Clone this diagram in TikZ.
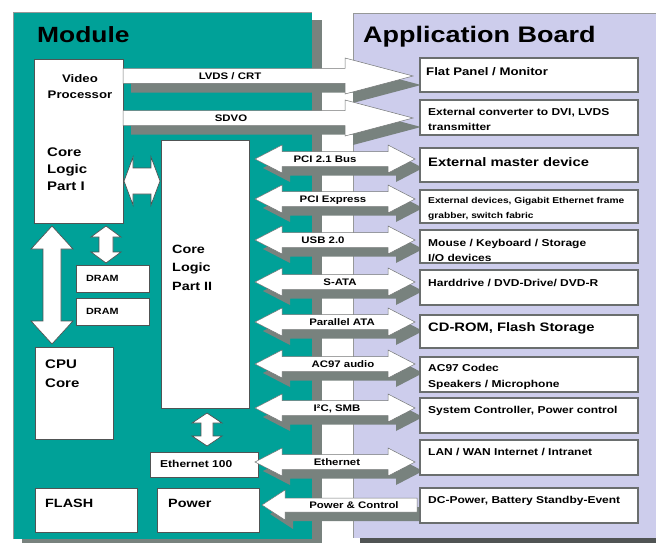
\documentclass[tikz,border=0pt]{standalone}
\usepackage{fontspec}
\setmainfont{Liberation Sans}[FakeStretch=1.2]
\usetikzlibrary{calc}
\definecolor{modteal}{RGB}{0,161,152}
\definecolor{boardlav}{RGB}{205,205,236}
\definecolor{shgray}{RGB}{120,130,126}
\definecolor{edgegray}{RGB}{80,84,84}
% block arrow outlines: #1,#2 end points, #3 head length, #4 head half width, #5 body half width
\newcommand{\HDpath}[5]{(#1) -- ($(#1)+(#3,-#4)$) -- ($(#1)+(#3,-#5)$) -- ($(#2)+(-#3,-#5)$) -- ($(#2)+(-#3,-#4)$) -- (#2) -- ($(#2)+(-#3,#4)$) -- ($(#2)+(-#3,#5)$) -- ($(#1)+(#3,#5)$) -- ($(#1)+(#3,#4)$) -- cycle}
\newcommand{\SRpath}[5]{($(#1)+(0,-#5)$) -- ($(#2)+(-#3,-#5)$) -- ($(#2)+(-#3,-#4)$) -- (#2) -- ($(#2)+(-#3,#4)$) -- ($(#2)+(-#3,#5)$) -- ($(#1)+(0,#5)$) -- cycle}
\newcommand{\SLpath}[5]{(#1) -- ($(#1)+(#3,-#4)$) -- ($(#1)+(#3,-#5)$) -- ($(#2)+(0,-#5)$) -- ($(#2)+(0,#5)$) -- ($(#1)+(#3,#5)$) -- ($(#1)+(#3,#4)$) -- cycle}
\newcommand{\VDpath}[5]{(#1) -- ($(#1)+(#4,#3)$) -- ($(#1)+(#5,#3)$) -- ($(#2)+(#5,-#3)$) -- ($(#2)+(#4,-#3)$) -- (#2) -- ($(#2)+(-#4,-#3)$) -- ($(#2)+(-#5,-#3)$) -- ($(#1)+(-#5,#3)$) -- ($(#1)+(-#4,#3)$) -- cycle}
\begin{document}
\begin{tikzpicture}[x=1pt,y=-1pt,
  box/.style={draw=edgegray, line width=0.8pt, fill=white, inner sep=0pt, outer sep=0pt, anchor=north west},
  abox/.style={draw=edgegray!85, line width=1.1pt, fill=white, inner sep=0pt, outer sep=0pt, anchor=north west, minimum width=218},
  lbl/.style={inner sep=0pt, anchor=base west},
  clbl/.style={inner sep=0pt, anchor=base},
  fsz/.style={font=\bfseries\fontsize{#1}{#1}\selectfont},
  arrbody/.style={fill=white, draw=edgegray!80, line width=0.5pt},
  arrshadow/.style={fill=shgray},
  inarrow/.style={fill=white, draw=edgegray, line width=0.7pt}]
\useasboundingbox (0,0) rectangle (656,543);

% panels
\fill[shgray] (22,20) rectangle (322,543);
\fill[modteal] (13,12) rectangle (312,539);
\draw[edgegray!60, line width=0.4pt] (13,539) -- (13,12) -- (312,12);
\fill[edgegray] (360,20) rectangle (656,543);
\fill[boardlav] (353,13) rectangle (656,538);
\draw[edgegray!60, line width=0.6pt] (656,13) -- (353,13) -- (353,538);

\node[lbl, fsz=22] (modT) at (37,43) {Module};
\node[lbl, fsz=22.5] (abT) at (363,43) {Application Board};

% module boxes
\node[box, minimum width=89, minimum height=164] (vp) at (34,59) {};
\node[box, minimum width=88, minimum height=268] (cl2) at (161,140) {};
\node[box, minimum width=73, minimum height=27] (dram1) at (76,265) {};
\node[box, minimum width=73, minimum height=27] (dram2) at (76,298) {};
\node[box, minimum width=78, minimum height=92] (cpu) at (35,347) {};
\node[box, minimum width=108, minimum height=25] (eth) at (150,452) {};
\node[box, minimum width=102, minimum height=44] (flash) at (35,488) {};
\node[box, minimum width=102, minimum height=44] (power) at (157,488) {};

\node[clbl, fsz=11] (vpA) at (80,82) {Video};
\node[clbl, fsz=11] (vpB) at (80,98) {Processor};
\node[lbl, fsz=12.5] (c1A) at (47,156.5) {Core};
\node[lbl, fsz=12.5] (c1B) at (47,173) {Logic};
\node[lbl, fsz=12.5] (c1C) at (47,190) {Part I};
\node[lbl, fsz=12] (c2A) at (172,253) {Core};
\node[lbl, fsz=12] (c2B) at (172,271.5) {Logic};
\node[lbl, fsz=12] (c2C) at (172,290) {Part II};
\node[lbl, fsz=9] (d1T) at (86,281) {DRAM};
\node[lbl, fsz=9] (d2T) at (86,314) {DRAM};
\node[lbl, fsz=12.5] (cpuA) at (45,368) {CPU};
\node[lbl, fsz=12.5] (cpuB) at (45,387) {Core};
\node[lbl, fsz=10] (ethT) at (160,467) {Ethernet 100};
\node[lbl, fsz=12] (flT) at (45,507.5) {FLASH};
\node[lbl, fsz=12] (pwT) at (168,507.5) {Power};

% internal arrows
\coordinate (c12L) at (124,181);
\coordinate (c12R) at (160,181);
\filldraw[inarrow] \HDpath{c12L}{c12R}{9}{24}{13};
\coordinate (bigT) at (52,226);
\coordinate (bigB) at (52,344);
\filldraw[inarrow] \VDpath{bigT}{bigB}{23}{21}{9};
\coordinate (drT) at (106,226);
\coordinate (drB) at (106,263);
\filldraw[inarrow] \VDpath{drT}{drB}{11}{15}{7};
\coordinate (etT) at (207,413);
\coordinate (etB) at (207,446);
\filldraw[inarrow] \VDpath{etT}{etB}{10}{15}{6};

% connector arrows to the application board
\coordinate (lvdsS) at (vp.east |- 0,76);
\coordinate (lvdsE) at (413,76);
\coordinate (sdvoS) at (vp.east |- 0,118);
\coordinate (sdvoE) at (413,118);
\begin{scope}[transform canvas={xshift=8pt,yshift=-9pt}]
  \fill[arrshadow] \SRpath{lvdsS}{lvdsE}{68}{18}{7.5};
  \fill[arrshadow] \SRpath{sdvoS}{sdvoE}{68}{18}{7.5};
\end{scope}
\filldraw[arrbody] \SRpath{lvdsS}{lvdsE}{68}{18}{7.5};
\filldraw[arrbody] \SRpath{sdvoS}{sdvoE}{68}{18}{7.5};

\foreach \nm/\yy in {pci/159, pcie/199, usb/240, sata/282, pata/322, ac/364, iic/408, ethn/462} {
  \coordinate (\nm L) at (255,\yy);
  \coordinate (\nm R) at (415,\yy);
}
\begin{scope}[transform canvas={xshift=8pt,yshift=-9pt}]
  \foreach \nm in {pci, pcie, usb, sata, pata, ac, iic, ethn} {
    \fill[arrshadow] \HDpath{\nm L}{\nm R}{27}{14}{7.5};
  }
\end{scope}
\foreach \nm in {pci, pcie, usb, sata, pata, ac, iic, ethn} {
  \filldraw[arrbody] \HDpath{\nm L}{\nm R}{27}{14}{7.5};
}
\coordinate (pwrT) at (262,505);
\coordinate (pwrE) at (417,505);
\begin{scope}[transform canvas={xshift=8pt,yshift=-9pt}]
  \fill[arrshadow] \SLpath{pwrT}{pwrE}{23}{15}{7};
\end{scope}
\filldraw[arrbody] \SLpath{pwrT}{pwrE}{23}{15}{7};

% arrow labels
\node[clbl, fsz=9.5] (lvdsL) at (230,79.5) {LVDS / CRT};
\node[clbl, fsz=9.5] (sdvoL) at (231,121.5) {SDVO};
\node[clbl, fsz=9.5] (pciT) at (325,162) {PCI 2.1 Bus};
\node[clbl, fsz=9.5] (pcieT) at (333,202) {PCI Express};
\node[clbl, fsz=9.5] (usbT) at (323,243) {USB 2.0};
\node[clbl, fsz=9.5] (sataT) at (340,285.5) {S-ATA};
\node[clbl, fsz=9.5] (pataT) at (342,325) {Parallel ATA};
\node[clbl, fsz=9.5] (acT) at (343,367) {AC97 audio};
\node[clbl, fsz=9.5] (iicT) at (337,411.5) {I²C, SMB};
\node[clbl, fsz=9.5] (ethnT) at (337,465.5) {Ethernet};
\node[clbl, fsz=9.5] (pwrL) at (354,508) {Power \& Control};

% application board boxes
\node[abox, minimum height=34] (ab1) at (420,58) {};
\node[abox, minimum height=35] (ab2) at (420,100) {};
\node[abox, minimum height=34] (ab3) at (420,148) {};
\node[abox, minimum height=33] (ab4) at (420,190) {};
\node[abox, minimum height=33] (ab5) at (420,230) {};
\node[abox, minimum height=35] (ab6) at (420,270) {};
\node[abox, minimum height=33] (ab7) at (420,315) {};
\node[abox, minimum height=35] (ab8) at (420,357) {};
\node[abox, minimum height=35] (ab9) at (420,398) {};
\node[abox, minimum height=35] (ab10) at (420,440) {};
\node[abox, minimum height=35] (ab11) at (420,488) {};

\node[lbl, fsz=11] (t1) at (426,75) {Flat Panel / Monitor};
\node[lbl, fsz=10] (t2a) at (428,115.5) {External converter to DVI, LVDS};
\node[lbl, fsz=10] (t2b) at (428,130.5) {transmitter};
\node[lbl, fsz=12.3] (t3) at (428,166.5) {External master device};
\node[lbl, fsz=8.5] (t4a) at (428,203) {External devices, Gigabit Ethernet frame};
\node[lbl, fsz=8.5] (t4b) at (428,218) {grabber, switch fabric};
\node[lbl, fsz=10] (t5a) at (428,246.5) {Mouse / Keyboard / Storage};
\node[lbl, fsz=10] (t5b) at (428,261.5) {I/O devices};
\node[lbl, fsz=10] (t6) at (428,286.5) {Harddrive / DVD-Drive/ DVD-R};
\node[lbl, fsz=12.3] (t7) at (428,331.5) {CD-ROM, Flash Storage};
\node[lbl, fsz=10] (t8a) at (428,371.5) {AC97 Codec};
\node[lbl, fsz=10] (t8b) at (428,387.5) {Speakers / Microphone};
\node[lbl, fsz=10] (t9) at (428,413.5) {System Controller, Power control};
\node[lbl, fsz=10] (t10) at (428,455.5) {LAN / WAN Internet / Intranet};
\node[lbl, fsz=10] (t11) at (428,503.5) {DC-Power, Battery Standby-Event};
\end{tikzpicture}
\end{document}
